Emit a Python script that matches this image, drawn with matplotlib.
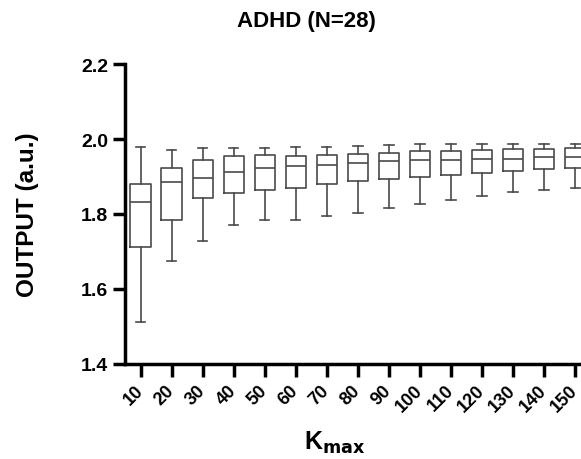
import numpy as np
import matplotlib
matplotlib.use("Agg")
import matplotlib.pyplot as plt

plt.rcParams['font.family'] = ['Liberation Sans', 'DejaVu Sans']

# box plot summary
kmax = ['10', '20', '30', '40', '50', '60', '70', '80', '90', '100',
        '110', '120', '130', '140', '150']
whislo = [1.511, 1.674, 1.729, 1.772, 1.783, 1.785, 1.794, 1.804, 1.815, 1.828,
          1.838, 1.849, 1.858, 1.863, 1.869]
q1 = [1.711, 1.785, 1.843, 1.855, 1.865, 1.870, 1.881, 1.888, 1.893, 1.899,
      1.904, 1.910, 1.916, 1.920, 1.924]
med = [1.832, 1.886, 1.897, 1.911, 1.923, 1.927, 1.931, 1.936, 1.942, 1.944,
       1.945, 1.947, 1.947, 1.951, 1.953]
q3 = [1.881, 1.924, 1.944, 1.955, 1.958, 1.956, 1.958, 1.960, 1.962, 1.967,
      1.969, 1.970, 1.973, 1.974, 1.975]
whishi = [1.979, 1.971, 1.976, 1.976, 1.976, 1.978, 1.979, 1.982, 1.984, 1.988,
          1.988, 1.988, 1.988, 1.988, 1.988]

stats = []
for i in range(len(kmax)):
    stats.append({'label': kmax[i], 'whislo': whislo[i], 'q1': q1[i], 'med': med[i],
                  'q3': q3[i], 'whishi': whishi[i], 'fliers': []})

fig = plt.figure(figsize=(5.81, 4.6), dpi=100)
ax = fig.add_axes([125/581, 95/460, 475/581, 300/460])

lc = '#4a4a4a'
lw = 1.2
ax.bxp(stats, positions=np.arange(len(kmax)), widths=0.65, showfliers=False,
       boxprops=dict(color=lc, linewidth=lw),
       medianprops=dict(color=lc, linewidth=lw),
       whiskerprops=dict(color=lc, linewidth=lw),
       capprops=dict(color=lc, linewidth=lw),
       capwidths=0.3)

ax.set_xlim(-0.5, 14.8)
ax.set_ylim(1.4, 2.2)
ax.set_yticks([1.4, 1.6, 1.8, 2.0, 2.2])
ax.set_yticklabels(['1.4', '1.6', '1.8', '2.0', '2.2'], fontsize=14, fontweight='bold')
ax.set_xticks(np.arange(len(kmax)))
ax.set_xticklabels(kmax, rotation=45, ha='right', va='center', rotation_mode='anchor',
                   fontsize=13, fontweight='bold')

for s in ['top', 'right']:
    ax.spines[s].set_visible(False)
for s in ['left', 'bottom']:
    ax.spines[s].set_linewidth(2.5)
ax.tick_params(axis='both', width=2.5, length=9, color='black')
ax.tick_params(axis='y', pad=3)
ax.tick_params(axis='x', pad=8)

fig.text(28/581, 1 - 215/460, 'OUTPUT (a.u.)', rotation=90, ha='center', va='center',
         fontsize=17.5, fontweight='bold')
fig.text(306/581, 1 - 22/460, 'ADHD (N=28)', ha='center', va='center',
         fontsize=16, fontweight='bold')
fig.text(335/581, 1 - 443/460, r'K$_{\mathbf{max}}$', ha='center', va='center',
         fontsize=18, fontweight='bold')

fig.savefig('out.png', dpi=100)
